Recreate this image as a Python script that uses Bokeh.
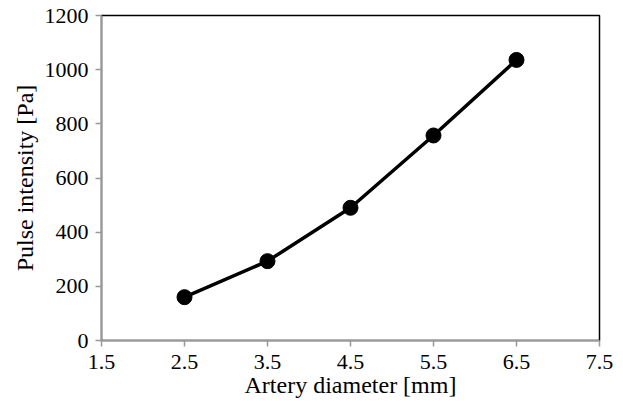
from bokeh.plotting import figure
from bokeh.embed import file_html
from bokeh.resources import INLINE
from bokeh.models import Range1d, FixedTicker

diameter_mm = [2.5, 3.5, 4.5, 5.5, 6.5]
intensity_pa = [160, 293, 490, 757, 1036]
x_ticks = [1.5, 2.5, 3.5, 4.5, 5.5, 6.5, 7.5]
y_ticks = [0, 200, 400, 600, 800, 1000, 1200]

FONT = "Liberation Serif"

p = figure(width=615, height=401, output_backend="svg", toolbar_location=None,
           x_range=Range1d(1.5, 7.5), y_range=Range1d(0, 1200),
           min_border_left=101, min_border_right=16, min_border_top=15, min_border_bottom=61)

p.line(diameter_mm, intensity_pa, line_color="black", line_width=3.5)
p.scatter(diameter_mm, intensity_pa, size=15, fill_color="black", line_color="black")

p.xgrid.visible = False
p.ygrid.visible = False
p.outline_line_color = "black"
p.outline_line_width = 1.5
p.outline_line_alpha = 1.0

p.xaxis.ticker = FixedTicker(ticks=x_ticks)
p.yaxis.ticker = FixedTicker(ticks=y_ticks)
p.xaxis.axis_label = "Artery diameter [mm]"
p.yaxis.axis_label = "Pulse intensity [Pa]"

for ax in (p.xaxis[0], p.yaxis[0]):
    ax.axis_line_color = "#999999"
    ax.axis_line_width = 1.5
    ax.major_tick_line_color = "#999999"
    ax.major_tick_line_width = 1.5
    ax.major_tick_out = 6
    ax.major_tick_in = 0
    ax.minor_tick_line_color = None
    ax.major_label_text_font = FONT
    ax.major_label_text_font_size = "22px"
    ax.major_label_text_color = "black"
    ax.axis_label_text_font = FONT
    ax.axis_label_text_font_size = "24px"
    ax.axis_label_text_font_style = "normal"
    ax.axis_label_text_color = "black"

p.xaxis.major_label_standoff = 8
p.yaxis.major_label_standoff = 7
p.xaxis.axis_label_standoff = 0
p.yaxis.axis_label_standoff = 4

open("out.html", "w").write(file_html(p, INLINE))
